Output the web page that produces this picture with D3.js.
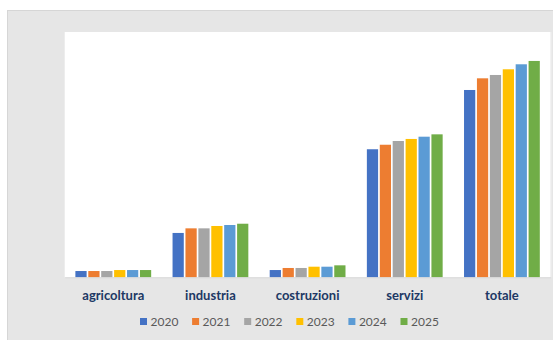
<!DOCTYPE html>
<html>
<head>
<meta charset="utf-8">
<script src="https://cdn.jsdelivr.net/npm/d3@7"></script>
<style>
  html, body { margin: 0; padding: 0; background: #ffffff; }
  svg { display: block; }
</style>
</head>
<body>
<svg id="chart" width="553" height="340"></svg>
<script>
// ---- data ----
const categories = ["agricoltura", "industria", "costruzioni", "servizi", "totale"];
const years = ["2020", "2021", "2022", "2023", "2024", "2025"];
const agricoltura = [64, 64, 64, 74, 74, 74];
const industria = [452, 499, 499, 523, 533, 546];
const costruzioni = [74, 95, 95, 108, 108, 122];
const servizi = [1305, 1351, 1389, 1410, 1433, 1457];
const totale = [1909, 2028, 2062, 2120, 2171, 2205];
const seriesColors = ["#4472C4", "#ED7D31", "#A5A5A5", "#FFC000", "#5B9BD5", "#70AD47"];
const yMax = 2500;

const valuesByCategory = { agricoltura, industria, costruzioni, servizi, totale };

// ---- layout ----
const svg = d3.select("#chart");
const W = 553, H = 340;
const plot = { left: 64.7, right: 550.5, top: 32, bottom: 277.3 };

// outer gray frame
svg.append("rect")
  .attr("x", 7.5).attr("y", 10.5)
  .attr("width", W - 7).attr("height", H - 10)
  .attr("fill", "#e6e6e6")
  .attr("stroke", "#d6d6d6").attr("stroke-width", 1);

// white plot area
svg.append("rect")
  .attr("x", plot.left).attr("y", plot.top)
  .attr("width", plot.right - plot.left).attr("height", plot.bottom - plot.top)
  .attr("fill", "#ffffff");

svg.append("line")
  .attr("x1", plot.right + 0.5).attr("x2", plot.right + 0.5)
  .attr("y1", plot.top).attr("y2", plot.bottom)
  .attr("stroke", "#f0f0f0").attr("stroke-width", 1);

const x0 = d3.scaleBand()
  .domain(categories)
  .range([plot.left, plot.right])
  .paddingInner(0.22)
  .paddingOuter(0.11);

const x1 = d3.scaleBand()
  .domain(years)
  .range([0, x0.bandwidth()])
  .paddingInner(0.13);

const y = d3.scaleLinear()
  .domain([0, yMax])
  .range([plot.bottom, plot.top]);

const color = d3.scaleOrdinal().domain(years).range(seriesColors);

// bars
const groups = svg.append("g").selectAll("g")
  .data(categories)
  .join("g")
  .attr("transform", d => `translate(${x0(d)},0)`);

groups.selectAll("rect")
  .data(c => years.map((yr, i) => ({ cat: c, year: yr, value: valuesByCategory[c][i] })))
  .join("rect")
  .attr("x", d => x1(d.year))
  .attr("y", d => y(d.value))
  .attr("width", x1.bandwidth())
  .attr("height", d => y(0) - y(d.value))
  .attr("fill", d => color(d.year));

// category axis
const xAxis = svg.append("g")
  .attr("transform", `translate(0,${plot.bottom})`)
  .call(d3.axisBottom(x0).tickSize(0).tickPadding(13));
xAxis.select(".domain").attr("stroke", "#d9d9d9").attr("stroke-width", 1);
xAxis.selectAll("text")
  .attr("fill", "#203864")
  .attr("font-family", "Lato, 'Open Sans', sans-serif")
  .attr("font-weight", "bold")
  .attr("font-size", "13px");

// legend
const legendX = d3.scalePoint()
  .domain(years)
  .range([140, 400.5]);

const legend = svg.append("g").selectAll("g")
  .data(years)
  .join("g")
  .attr("transform", d => `translate(${legendX(d)},0)`);

legend.append("rect")
  .attr("x", 0).attr("y", 318)
  .attr("width", 7).attr("height", 7)
  .attr("fill", d => color(d));

legend.append("text")
  .attr("x", 10.5).attr("y", 326)
  .attr("fill", "#595959")
  .attr("font-family", "Lato, 'Open Sans', sans-serif")
  .attr("font-size", "12px")
  .text(d => d);
</script>
</body>
</html>
